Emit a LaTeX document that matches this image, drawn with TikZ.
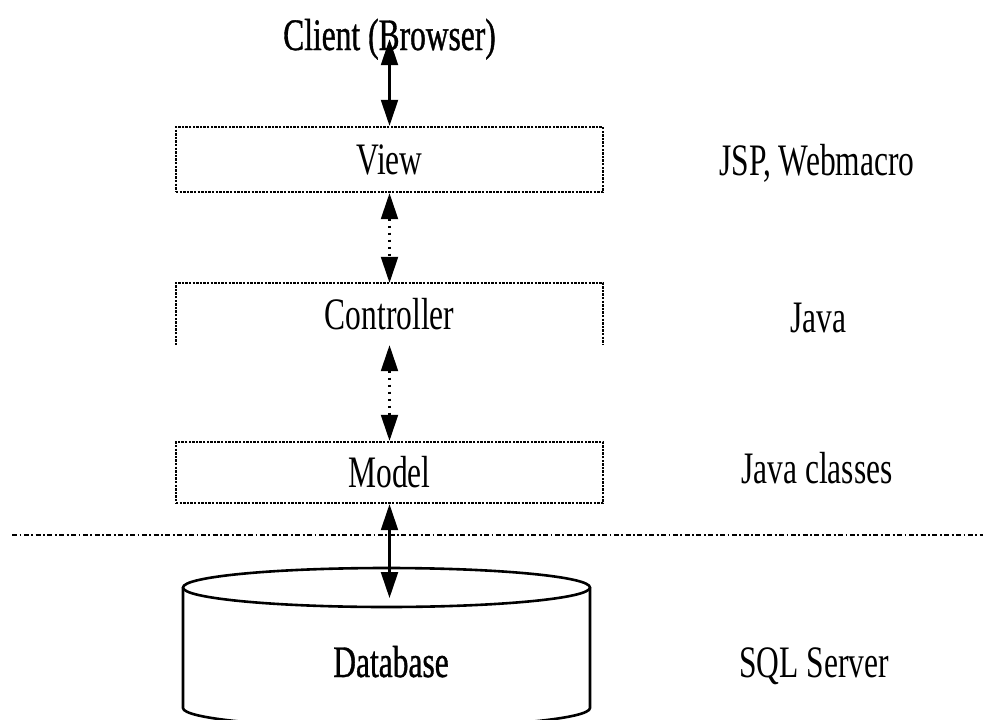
\documentclass[tikz,border=0pt]{standalone}
\usepackage{fontspec}
\setmainfont{Liberation Serif}[FakeStretch=0.7]
\newfontfamily\heavyserif{Liberation Serif}[FakeStretch=0.7, FakeBold=0.8]
\usetikzlibrary{arrows.meta}
\begin{document}
\begin{tikzpicture}[x=1pt,y=-1pt,
  every node/.style={font=\fontsize{45}{50}\selectfont, inner sep=0pt},
  boxedge/.style={line width=2.4pt, dash pattern=on 2.4pt off 1.2pt},
  layerbox/.style={draw, boxedge, minimum width=427pt},
  link/.style={{Triangle[length=26pt,width=17pt]}-{Triangle[length=26pt,width=17pt]}, line width=2.2pt},
  dotlink/.style={link, dash pattern=on 2.5pt off 4.5pt},
  tag/.style={anchor=base},
  heavytag/.style={anchor=base, font=\fontsize{45}{50}\selectfont\heavyserif},
  sepline/.style={line width=2.4pt, dash pattern=on 5pt off 2.5pt on 1.8pt off 2.5pt},
  dbline/.style={line width=2.6pt}
]
\useasboundingbox (0,0) rectangle (983,720);
\clip (0,0) rectangle (983,720);

% layers
\node[layerbox, minimum height=65pt] (view) at (389.5,159.5) {View};
\node[minimum width=427pt, minimum height=62pt] (ctrl) at (389.5,314) {Controller};
\draw[boxedge] (ctrl.south west) -- (ctrl.north west) -- (ctrl.north east) -- (ctrl.south east);
\node[layerbox, minimum height=61pt] (model) at (389.5,472.5) {Model};

% client
\node[heavytag] (client) at (389.5,50) {Client (Browser)};

% separator between application and data tier
\coordinate (sepL) at (12,535);
\coordinate (sepR) at (983,535);
\draw[sepline] (sepL) -- (sepR);

% database cylinder
\draw[dbline] (386.5,587.5) ellipse [x radius=203.5, y radius=19.5];
\draw[dbline] (183,587.5) -- (183,708)
  arc [start angle=180, end angle=0, x radius=203.5, y radius=19.5]
  -- (590,587.5);
\node[heavytag] (dbl) at (391,677) {Database};
\coordinate (dbtop) at (389.5,598);

% connectors
\draw[link] (client.center) -- (view.north);
\draw[dotlink] (view.south) -- (ctrl.north);
\draw[dotlink] (ctrl.south) -- (model.north);
\draw[link] (model.south) -- (dbtop);

% technology labels
\node[tag] (jsp) at (817,175) {JSP, Webmacro};
\node[tag] (java) at (818,332) {Java};
\node[tag] (jcls) at (817,483) {Java classes};
\node[tag] (sql) at (814,677) {SQL Server};
\end{tikzpicture}
\end{document}
